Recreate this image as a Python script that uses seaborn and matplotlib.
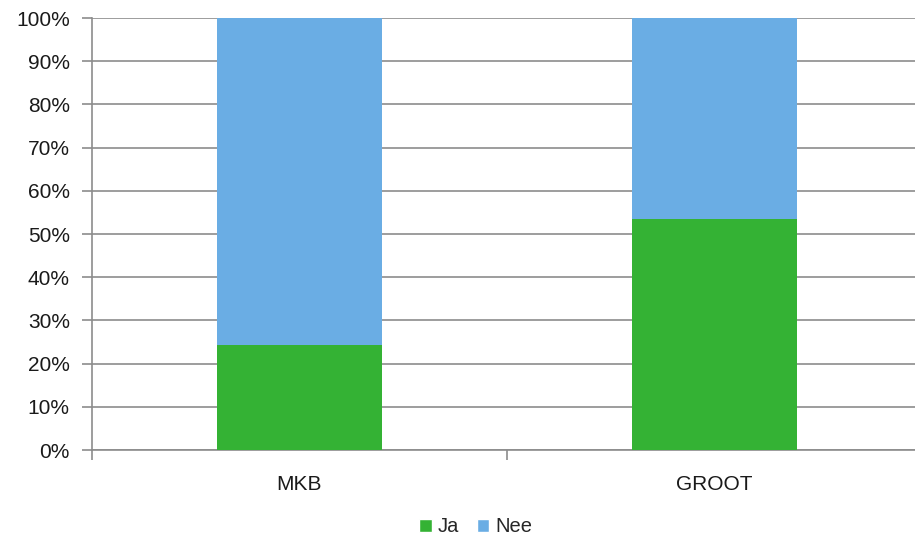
import pandas as pd
import seaborn as sns
import matplotlib.pyplot as plt
from matplotlib.patches import Patch
from matplotlib.ticker import PercentFormatter, FixedLocator

# Chart data
categories = ['MKB', 'GROOT']
ja = [24.2, 53.4]
nee = [75.8, 46.6]

green = '#34B234'
blue = '#6AADE4'
grey = '#8C8C8C'

df = pd.DataFrame({'categorie': categories, 'Ja': ja, 'Nee': nee})
df['totaal'] = df['Ja'] + df['Nee']

sns.set_style('white')
plt.rcParams['font.family'] = ['Liberation Sans', 'DejaVu Sans']

fig = plt.figure(figsize=(9.15, 5.4), dpi=100)
ax = fig.add_axes([92 / 915, 90 / 540, 830 / 915, 432 / 540])

# stacked bars: total (Nee on top) then Ja drawn over it
sns.barplot(data=df, x='categorie', y='totaal', color=blue, width=0.398,
            saturation=1, linewidth=0, ax=ax, zorder=3)
sns.barplot(data=df, x='categorie', y='Ja', color=green, width=0.398,
            saturation=1, linewidth=0, ax=ax, zorder=4)

ax.set_xlim(-0.5, 1.5)
ax.set_ylim(0, 100)
ax.set_yticks(range(0, 101, 10))
ax.yaxis.set_major_formatter(PercentFormatter(decimals=0))
ax.yaxis.grid(True, color=grey, linewidth=1.2, zorder=0)
ax.set_axisbelow(True)

ax.set_xlabel('')
ax.set_ylabel('')

for side in ['top', 'right']:
    ax.spines[side].set_visible(False)
for side in ['left', 'bottom']:
    ax.spines[side].set_color(grey)
    ax.spines[side].set_linewidth(1.2)

# x ticks at category boundaries, labels centred without tick marks
ax.xaxis.set_minor_locator(FixedLocator([-0.5, 0.5, 1.5]))
ax.tick_params(axis='x', which='minor', length=7, color=grey, width=1.2,
               direction='out', bottom=True)
ax.tick_params(axis='x', which='major', length=0, pad=18, labelsize=15,
               labelcolor='#1a1a1a')
ax.tick_params(axis='y', length=7, color=grey, width=1.2, direction='out',
               left=True, pad=9, labelsize=15, labelcolor='#1a1a1a')

handles = [Patch(facecolor=green, label='Ja'), Patch(facecolor=blue, label='Nee')]
fig.legend(handles=handles, loc='center', bbox_to_anchor=(0.52, 13 / 540),
           ncol=2, frameon=False, fontsize=14.5, handlelength=0.6,
           handleheight=0.6, handletextpad=0.3, columnspacing=0.9)

plt.savefig('out.png', dpi=100)
